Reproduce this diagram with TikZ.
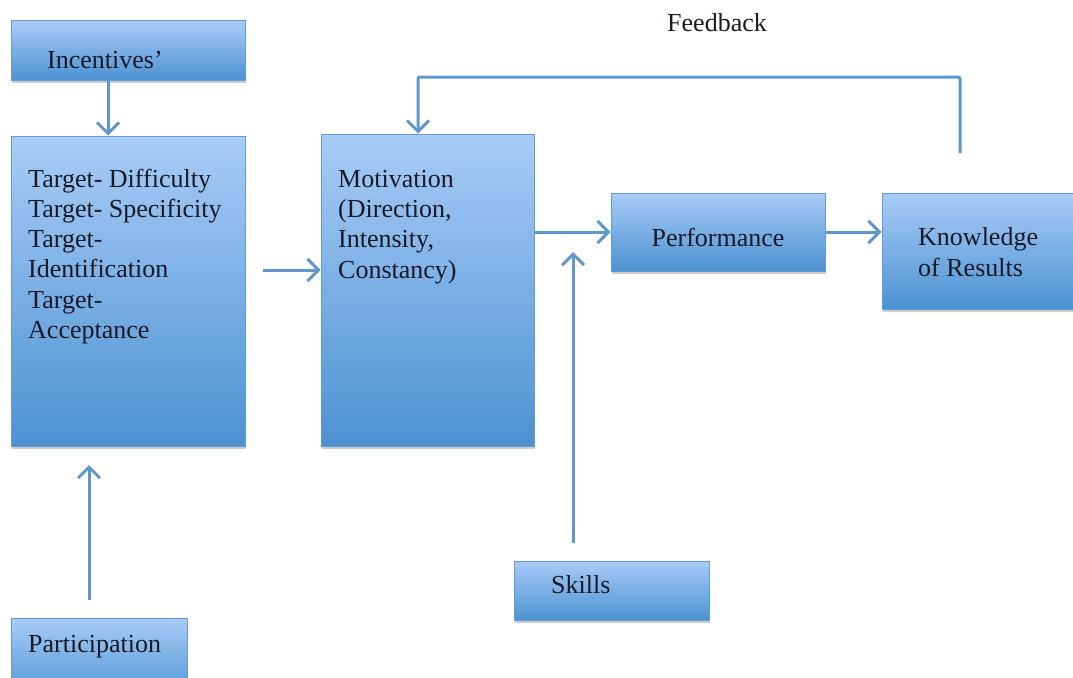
\documentclass[tikz,border=0pt]{standalone}
\usepackage{fontspec}
\setmainfont{Liberation Serif}
\usetikzlibrary{arrows.meta,shadows}
\definecolor{lineblue}{RGB}{95,150,205}
\definecolor{boxtop}{RGB}{168,204,246}
\definecolor{boxbot}{RGB}{76,146,210}
\definecolor{boxedge}{RGB}{100,155,210}
\definecolor{txt}{RGB}{25,25,40}
\begin{document}
\begin{tikzpicture}[x=1pt,y=-1pt,
  box/.style={draw=boxedge, line width=1pt, top color=boxtop, bottom color=boxbot,
    inner sep=0pt, drop shadow={shadow xshift=1pt, shadow yshift=-3pt, opacity=0.4}},
  lbl/.style={anchor=base west, inner sep=0pt, align=left, text=txt,
    font=\fontsize{26}{30.3}\selectfont},
  conn/.style={draw=lineblue, line width=3pt, rounded corners=2pt,
    -{Straight Barb[length=11pt,width=22pt]}}]
\useasboundingbox (0,0) rectangle (1073,677);

% boxes
\node[box, minimum width=234pt, minimum height=59pt] (inc) at (128,50.5) {};
\node[box, minimum width=234pt, minimum height=310pt] (tgt) at (128,291) {};
\node[box, minimum width=176pt, minimum height=82pt] (part) at (99,659) {};
\node[box, minimum width=213pt, minimum height=312pt] (mot) at (427.5,290) {};
\node[box, minimum width=214pt, minimum height=78pt] (perf) at (718,232) {};
\node[box, minimum width=218pt, minimum height=116pt] (know) at (991,251) {};
\node[box, minimum width=195pt, minimum height=59pt] (skl) at (611.5,590.5) {};

% texts (anchor = baseline of the last line)
\node[lbl] (tinc) at (47,68) {Incentives’};
\node[lbl] (ttgt) at (28,338.5) {Target- Difficulty\\Target- Specificity\\Target-\\Identification\\Target-\\Acceptance};
\node[lbl] (tpart) at (28,652) {Participation};
\node[lbl] (tmot) at (338,278) {Motivation\\(Direction,\\Intensity,\\Constancy)};
\node[lbl, anchor=base] (tperf) at (718,246) {Performance};
\node[lbl] (tknow) at (918,276) {Knowledge\\of Results};
\node[lbl] (tskl) at (551,593) {Skills};
\node[lbl] (tfb) at (667,32) {Feedback};

% free connector ends
\coordinate (ia) at (108,100);
\coordinate (tm) at (263,270);
\coordinate (pa) at (89,600);
\coordinate (pt) at (89,465);
\coordinate (sa) at (573,543);
\coordinate (st) at (573,252);
\coordinate (fb) at (960,153);
\coordinate (fbin) at (418,77);

% connectors
\draw[conn] (inc.south -| ia) -- (ia |- tgt.north);
\draw[conn] (tm) -- (tm -| mot.west);
\draw[conn] (pa) -- (pt);
\draw[conn] (perf.west -| mot.east) -- (perf.west);
\draw[conn] (sa) -- (st);
\draw[conn] (perf.east) -- (perf.east -| know.west);
\draw[conn] (fb) |- (fbin) -- (fbin |- mot.north);
\end{tikzpicture}
\end{document}
